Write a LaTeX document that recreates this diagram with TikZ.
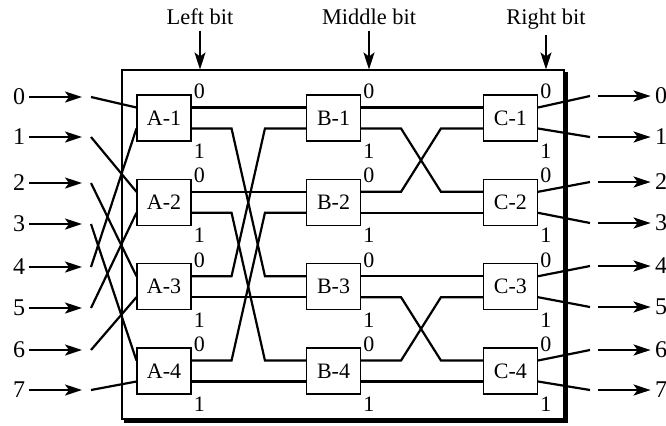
\documentclass[tikz,border=0pt]{standalone}
\usepackage{fontspec}
\setmainfont{Liberation Serif}
\usetikzlibrary{positioning, arrows.meta, calc}

\begin{document}
\begin{tikzpicture}[x=0.5pt, y=-0.5pt,
    sw/.style={rectangle, draw, line width=0.55pt, minimum width=27pt, minimum height=23pt, inner sep=0pt, font=\fontsize{11}{13}\selectfont},
    port/.style={inner sep=1pt, font=\fontsize{11}{13}\selectfont},
    io/.style={inner sep=2pt, font=\fontsize{12}{14}\selectfont},
    bitlbl/.style={anchor=base, inner sep=3pt, font=\fontsize{11.2}{13}\selectfont},
    wire/.style={line width=1.1pt},
    arr/.style={line width=1.1pt, -{Stealth[length=8.5pt, width=5.5pt, inset=2pt]}},
    frm/.style={rectangle, draw, line width=0.55pt, minimum width=221pt, minimum height=174.5pt, inner sep=0pt},
    frmshadow/.style={line width=1.7pt}
]
  \useasboundingbox (0,0) rectangle (666,425);

  % --- Frame ---
  \node[frm] (frame) at (343,244.5) {};
  \draw[frmshadow] ([shift={(2,3)}]frame.north east) -- ([shift={(2,2)}]frame.south east) -- ([shift={(3,2)}]frame.south west);

  % --- Switches and their ports ---
  \foreach \s/\x in {A/164, B/333.5, C/510.5} {
    \foreach \r/\y in {1/118, 2/202.3, 3/286.7, 4/371} {
      \node[sw] (\s\r) at (\x,\y) {\s-\r};
      \coordinate (\s\r-i0) at ($(\s\r.west)+(0,-10.5)$);
      \coordinate (\s\r-i1) at ($(\s\r.west)+(0,10.5)$);
      \coordinate (\s\r-o0) at ($(\s\r.east)+(0,-10.5)$);
      \coordinate (\s\r-o1) at ($(\s\r.east)+(0,10.5)$);
      \node[port, anchor=west] (\s\r-n0) at ([yshift=1.5pt]\s\r.north east) {0};
      \node[port, anchor=north west] (\s\r-n1) at (\s\r.south east) {1};
    }
  }

  % --- Bit labels ---
  \foreach \n/\t/\x in {lbit/Left bit/200, mbit/Middle bit/369, rbit/Right bit/546} {
    \node[bitlbl] (\n) at (\x,24) {\t};
    \draw[arr] (\n.south) -- (\n.south |- frame.north);
  }

  % --- Inputs ---
  \foreach \i/\y/\p in {0/97/A1-i0, 1/137/A2-i0, 2/183/A3-i0, 3/224/A4-i0,
                        4/267/A1-i1, 5/308/A2-i1, 6/350/A3-i1, 7/390/A4-i1} {
    \node[io] (in\i) at (19,\y) {\i};
    \coordinate (ia\i) at (82,\y);
    \coordinate (is\i) at (91,\y);
    \draw[arr] (in\i.east) -- (ia\i);
    \draw[wire] (is\i) -- (\p);
  }

  % --- Stage A to stage B ---
  \foreach \src/\dst in {A1-o0/B1-i0, A2-o0/B2-i0, A3-o1/B3-i1, A4-o1/B4-i1}
    \draw[wire] (\src) -- (\dst);
  \foreach \src/\dst in {A1-o1/B3-i0, A2-o1/B4-i0, A3-o0/B1-i1, A4-o0/B2-i1}
    \draw[wire] (\src) -- ++(40,0) -- ($(\dst)+(-41,0)$) -- (\dst);

  % --- Stage B to stage C ---
  \foreach \src/\dst in {B1-o0/C1-i0, B2-o1/C2-i1, B3-o0/C3-i0, B4-o1/C4-i1}
    \draw[wire] (\src) -- (\dst);
  \foreach \src/\dst in {B1-o1/C2-i0, B2-o0/C1-i1, B3-o1/C4-i0, B4-o0/C3-i1}
    \draw[wire] (\src) -- ++(40,0) -- ($(\dst)+(-42,0)$) -- (\dst);

  % --- Outputs ---
  \foreach \i/\y/\p in {0/96/C1-o0, 1/137/C1-o1, 2/182/C2-o0, 3/223/C2-o1,
                        4/266/C3-o0, 5/307/C3-o1, 6/350/C4-o0, 7/390/C4-o1} {
    \coordinate (os\i) at (590,\y);
    \coordinate (oa\i) at (598,\y);
    \node[io] (out\i) at (661,\y) {\i};
    \draw[wire] (\p) -- (os\i);
    \draw[arr] (oa\i) -- (out\i.west);
  }

\end{tikzpicture}
\end{document}
